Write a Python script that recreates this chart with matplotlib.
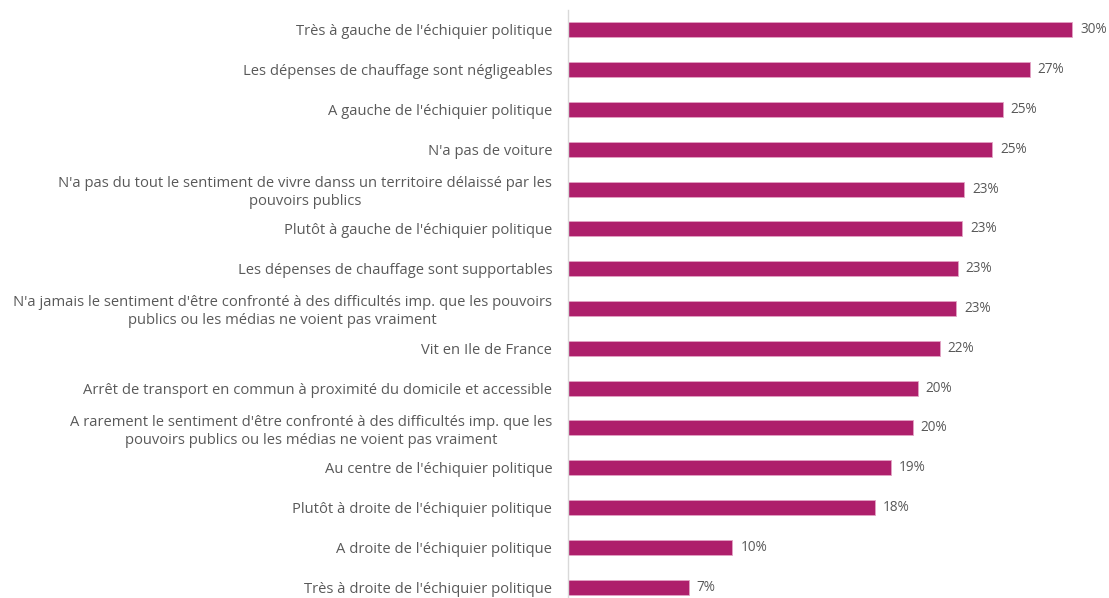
import matplotlib
matplotlib.use("Agg")
import matplotlib.pyplot as plt

categories = [
    "Très à gauche de l'échiquier politique",
    "Les dépenses de chauffage sont négligeables",
    "A gauche de l'échiquier politique",
    "N'a pas de voiture",
    "N'a pas du tout le sentiment de vivre danss un territoire délaissé par les\npouvoirs publics",
    "Plutôt à gauche de l'échiquier politique",
    "Les dépenses de chauffage sont supportables",
    "N'a jamais le sentiment d'être confronté à des difficultés imp. que les pouvoirs\npublics ou les médias ne voient pas vraiment",
    "Vit en Ile de France",
    "Arrêt de transport en commun à proximité du domicile et accessible",
    "A rarement le sentiment d'être confronté à des difficultés imp. que les\npouvoirs publics ou les médias ne voient pas vraiment",
    "Au centre de l'échiquier politique",
    "Plutôt à droite de l'échiquier politique",
    "A droite de l'échiquier politique",
    "Très à droite de l'échiquier politique",
]
values = [29.54, 27.05, 25.47, 24.86, 23.20, 23.11, 22.84, 22.74,
          21.78, 20.48, 20.19, 18.94, 17.98, 9.64, 7.09]

W, H = 1109, 598
fig = plt.figure(figsize=(W / 100, H / 100), dpi=100)
x0 = 567.5
ax = fig.add_axes([x0 / W, -9 / H, (W - x0) / W, 597 / H])

bar_color = "#AE1F6B"
text_color = "#595959"
ypos = list(range(len(categories)))
ax.barh(ypos, values, height=0.38, color=bar_color, edgecolor="#E3A3C4", linewidth=0.6)
ax.set_ylim(len(categories) - 0.5, -0.5)
ax.set_xlim(0, (W - x0) / 17.09)

for y, v in zip(ypos, values):
    ax.text(v + 8 / 17.09, y, f"{round(v)}%", va="center", ha="left",
            fontsize=9.8, color=text_color, family="Open Sans")

ax.set_yticks(ypos)
ax.set_yticklabels(categories, fontsize=10.6, color=text_color, family="Open Sans",
                   multialignment="center", linespacing=1.25)
ax.tick_params(axis="y", length=0, pad=11)
ax.set_xticks([])
for s in ["top", "right", "bottom"]:
    ax.spines[s].set_visible(False)
ax.spines["left"].set_color("#D9D9D9")
ax.spines["left"].set_linewidth(1)

fig.savefig("out.png", dpi=100)
